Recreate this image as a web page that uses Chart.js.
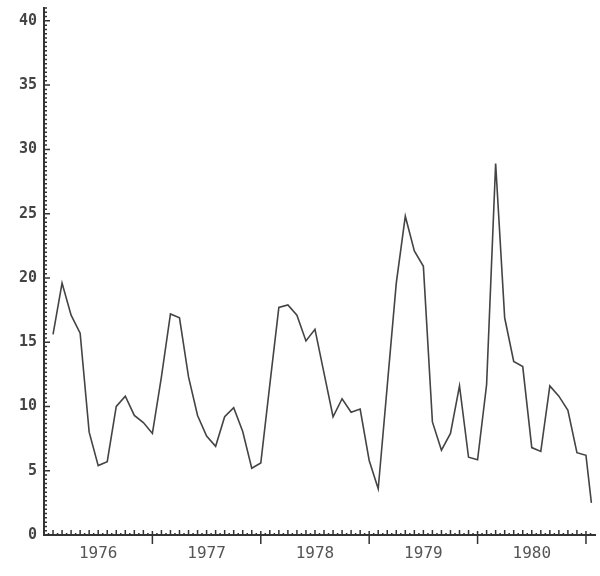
<!DOCTYPE html>
<html>
<head>
<meta charset="utf-8">
<script src="https://cdn.jsdelivr.net/npm/chart.js@4"></script>
<style>
  html, body { margin: 0; padding: 0; background: #fff; }
  #wrap { width: 600px; height: 576px; }
</style>
</head>
<body>
<div id="wrap"><canvas id="myChart" width="600" height="576"></canvas></div>
<script>
// monthly values, month 1 .. 60 (5 years)
const values = [
  15.6, 19.6, 17.1, 15.7, 8.0, 5.4, 5.7, 10.0, 10.8, 9.3, 8.75, 7.9,
  12.3, 17.2, 16.9, 12.3, 9.3, 7.7, 6.9, 9.2, 9.9, 8.05, 5.2, 5.6,
  11.7, 17.7, 17.9, 17.1, 15.1, 16.0, 12.6, 9.2, 10.6, 9.55, 9.8, 5.8,
  3.6, 11.6, 19.6, 24.8, 22.1, 20.9, 8.8, 6.6, 7.9, 11.6, 6.05, 5.85,
  11.7, 28.9, 16.9, 13.5, 13.1, 6.8, 6.5, 11.6, 10.8, 9.7, 6.4, 6.2
];
// last partial reading
const lastMonth = 60.6;
const lastValue = 2.5;

const years = ['1976', '1977', '1978', '1979', '1980'];
const yTicks = [0, 5, 10, 15, 20, 25, 30, 35, 40];

let pts = values.map((v, i) => ({x: i + 1, y: v}));
pts.push({x: lastMonth, y: lastValue});

const axisColor = '#333';

// small tick marks drawn on the inside of the axes
const innerTicks = {
  id: 'innerTicks',
  afterDraw(chart) {
    const ctx = chart.ctx;
    const xs = chart.scales.x, ys = chart.scales.y;
    const x0 = xs.left, y0 = ys.bottom;
    ctx.save();
    ctx.strokeStyle = axisColor;
    ctx.lineWidth = 1.5;
    ctx.beginPath();
    // y axis ticks every 1/3 unit, longer every 5
    for (let k = 1; k <= 123; k++) {
      let py = ys.getPixelForValue(k / 3);
      let len = (k % 15 == 0) ? 6 : 3;
      ctx.moveTo(x0, py);
      ctx.lineTo(x0 + len, py);
    }
    // x axis ticks: monthly, half-month, and year marks
    for (let m = 0.5; m <= 60.5; m += 0.5) {
      let px = xs.getPixelForValue(m);
      if (m % 12 == 0) {
        ctx.moveTo(px, y0 - 4);
        ctx.lineTo(px, y0 + 9);
      } else if (Number.isInteger(m)) {
        ctx.moveTo(px, y0);
        ctx.lineTo(px, y0 - 5);
      } else {
        ctx.moveTo(px, y0);
        ctx.lineTo(px, y0 - 2);
      }
    }
    ctx.stroke();
    ctx.restore();
  }
};

let mychart = document.getElementById('myChart').getContext('2d');
let chart = new Chart(mychart, {
  type: 'line',
  data: {
    datasets: [{
      label: 'series',
      data: pts,
      borderColor: '#444',
      borderWidth: 1.6,
      pointRadius: 0,
      tension: 0,
      fill: false
    }]
  },
  options: {
    responsive: false,
    animation: false,
    layout: { padding: { left: 0, right: 5, top: 8, bottom: 0 } },
    plugins: { legend: { display: false }, tooltip: { enabled: false } },
    scales: {
      x: {
        type: 'linear',
        min: 0,
        max: 61,
        grid: { display: false, drawTicks: false },
        border: { display: true, color: axisColor, width: 2 },
        afterBuildTicks: s => { s.ticks = years.map((y, i) => ({value: 6 + i * 12})); },
        afterFit: s => { s.height = 41; s.paddingLeft = 0; s.paddingRight = 0; },
        ticks: {
          padding: 9,
          color: '#555',
          font: { family: 'DejaVu Sans Mono', size: 16 },
          maxRotation: 0,
          autoSkip: false,
          callback: (v, i) => years[i]
        }
      },
      y: {
        min: 0,
        max: 41,
        grid: { display: false, drawTicks: false },
        border: { display: true, color: axisColor, width: 2 },
        afterBuildTicks: s => { s.ticks = yTicks.map(v => ({value: v})); },
        afterFit: s => { s.width = 44; s.paddingTop = 0; s.paddingBottom = 0; },
        ticks: {
          padding: 7,
          color: '#444',
          font: { family: 'DejaVu Sans Mono', size: 15, weight: 'bold' },
          callback: v => String(v)
        }
      }
    }
  },
  plugins: [innerTicks]
});
</script>
</body>
</html>
